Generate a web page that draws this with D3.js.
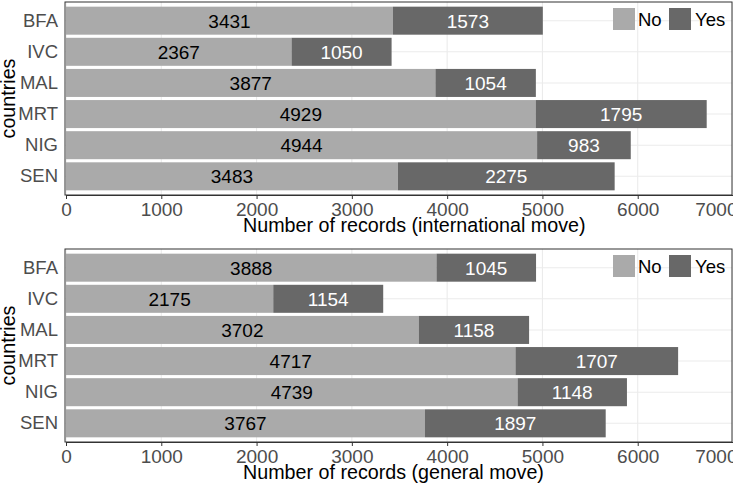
<!DOCTYPE html>
<html><head><meta charset="utf-8">
<script src="https://cdn.jsdelivr.net/npm/d3@7"></script>
<style>body{margin:0;background:#fff}svg{display:block;font-family:"Liberation Sans",Arial,sans-serif}</style>
</head><body><svg id="c" width="733" height="490"></svg>
<script>
const countries = ["BFA","IVC","MAL","MRT","NIG","SEN"];
const intlNo  = [3431,2367,3877,4929,4944,3483];
const intlYes = [1573,1050,1054,1795,983,2275];
const genNo   = [3888,2175,3702,4717,4739,3767];
const genYes  = [1045,1154,1158,1707,1148,1897];
const xTicks  = [0,1000,2000,3000,4000,5000,6000,7000];
const legendLabels = ["No","Yes"];
const titles = ["Number of records (international move)","Number of records (general move)"];

const svg = d3.select("#c");
const colNo = "#aaaaaa", colYes = "#686868";
const x = d3.scaleLinear().domain([0,7000]).range([66,733]);
const L = 65, R = 732, H = 193;
const FF = "Liberation Sans, Arial, sans-serif";

function panel(top, no, yes, title){
  const g = svg.append("g");
  const y = d3.scaleBand().domain(countries).range([top, top+H]).paddingInner(0.1).paddingOuter(0.15);
  g.selectAll(".vg").data(xTicks).join("line")
    .attr("x1",d=>x(d)).attr("x2",d=>x(d)).attr("y1",top).attr("y2",top+H)
    .attr("stroke","#ebebeb").attr("stroke-width",1.1);
  g.selectAll(".hg").data(countries).join("line")
    .attr("x1",L).attr("x2",R).attr("y1",d=>y(d)+y.bandwidth()/2).attr("y2",d=>y(d)+y.bandwidth()/2)
    .attr("stroke","#ebebeb").attr("stroke-width",1.1);
  const rows = countries.map((c,i)=>({c, no:no[i], yes:yes[i]}));
  g.selectAll(".bn").data(rows).join("rect")
    .attr("x",x(0)).attr("y",d=>y(d.c)).attr("width",d=>x(d.no)-x(0)).attr("height",y.bandwidth())
    .attr("fill",colNo);
  g.selectAll(".by").data(rows).join("rect")
    .attr("x",d=>x(d.no)).attr("y",d=>y(d.c)).attr("width",d=>x(d.no+d.yes)-x(d.no)).attr("height",y.bandwidth())
    .attr("fill",colYes);
  g.selectAll(".ln").data(rows).join("text")
    .attr("x",d=>x(d.no/2)).attr("y",d=>y(d.c)+y.bandwidth()/2+7)
    .attr("text-anchor","middle").attr("font-size",19).attr("fill","#000").text(d=>d.no);
  g.selectAll(".ly").data(rows).join("text")
    .attr("x",d=>x(d.no+d.yes/2)).attr("y",d=>y(d.c)+y.bandwidth()/2+7)
    .attr("text-anchor","middle").attr("font-size",19).attr("fill","#fff").text(d=>d.yes);
  g.append("rect").attr("x",L).attr("y",top).attr("width",R-L).attr("height",H)
    .attr("fill","none").attr("stroke","#333").attr("stroke-width",1);
  const ax = g.append("g").attr("transform",`translate(0,${top+H})`)
    .call(d3.axisBottom(x).tickValues(xTicks).tickFormat(d3.format("d")).tickSize(4).tickSizeOuter(0).tickPadding(4));
  ax.select(".domain").attr("stroke","#333");
  ax.selectAll(".tick line").attr("stroke","#333");
  ax.selectAll(".tick text").attr("font-size",19).attr("fill","#4d4d4d").attr("font-family",FF);
  ax.selectAll(".tick text").filter(d=>d===xTicks[xTicks.length-1])
    .attr("text-anchor","end").attr("dx",4);
  const ay = g.append("g").attr("transform",`translate(${L},0)`)
    .call(d3.axisLeft(y).tickSize(0).tickPadding(7));
  ay.select(".domain").remove();
  ay.selectAll(".tick text").attr("font-size",18.5).attr("fill","#4d4d4d").attr("font-family",FF);
  g.append("text").attr("x",243).attr("y",top+H+37).attr("font-size",19.7).attr("fill","#000").text(title);
  g.append("text").attr("transform",`translate(15,${top+H/2}) rotate(-90)`).attr("text-anchor","middle")
    .attr("font-size",19.7).attr("fill","#000").text("countries");
  const lg = g.append("g");
  const lx = [613,669], tx = [638,695];
  legendLabels.forEach((lab,i)=>{
    lg.append("rect").attr("x",lx[i]).attr("y",top+6).attr("width",22).attr("height",22).attr("fill",i?colYes:colNo);
    lg.append("text").attr("x",tx[i]).attr("y",top+24).attr("font-size",18.5).attr("fill","#000").text(lab);
  });
}
panel(2, intlNo, intlYes, titles[0]);
panel(249, genNo, genYes, titles[1]);
</script></body></html>
